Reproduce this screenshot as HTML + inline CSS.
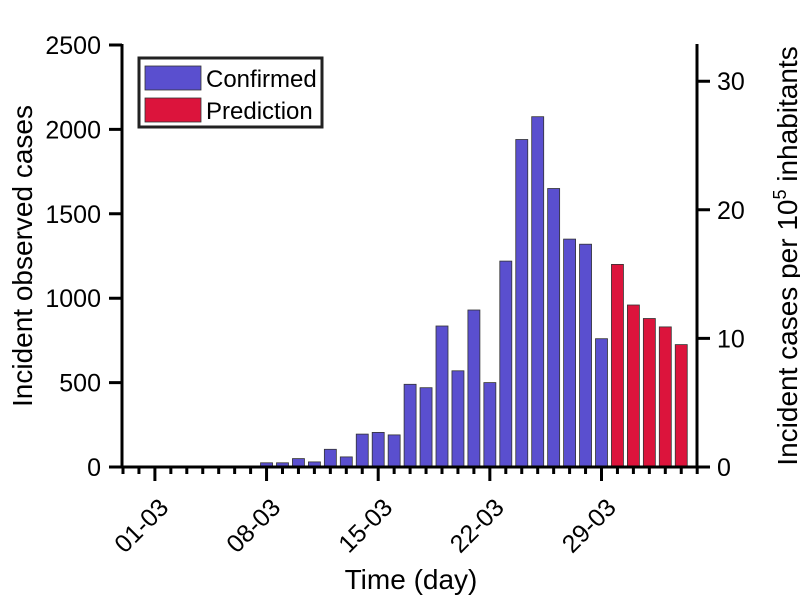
<!DOCTYPE html>
<html><head><meta charset="utf-8"><style>body{margin:0;background:#fff}svg{display:block}text{font-family:"Liberation Sans",sans-serif;fill:#000}</style></head><body>
<svg width="800" height="600" viewBox="0 0 800 600">
<g fill="#5a4fcf" stroke="#333" stroke-width="0.8">
<rect x="260.55" y="462.8" width="12" height="4.2"/>
<rect x="276.5" y="462.8" width="12" height="4.2"/>
<rect x="292.45" y="458.6" width="12" height="8.4"/>
<rect x="308.4" y="461.9" width="12" height="5.1"/>
<rect x="324.35" y="449.3" width="12" height="17.7"/>
<rect x="340.3" y="456.9" width="12" height="10.1"/>
<rect x="356.25" y="434.1" width="12" height="32.9"/>
<rect x="372.2" y="432.4" width="12" height="34.6"/>
<rect x="388.15" y="434.9" width="12" height="32.1"/>
<rect x="404.1" y="384.3" width="12" height="82.7"/>
<rect x="420.05" y="387.7" width="12" height="79.3"/>
<rect x="436" y="326" width="12" height="141"/>
<rect x="451.95" y="370.8" width="12" height="96.2"/>
<rect x="467.9" y="310" width="12" height="157"/>
<rect x="483.85" y="382.6" width="12" height="84.4"/>
<rect x="499.8" y="261.1" width="12" height="205.9"/>
<rect x="515.75" y="139.5" width="12" height="327.5"/>
<rect x="531.7" y="116.7" width="12" height="350.3"/>
<rect x="547.65" y="188.5" width="12" height="278.5"/>
<rect x="563.6" y="239.1" width="12" height="227.9"/>
<rect x="579.55" y="244.2" width="12" height="222.8"/>
<rect x="595.5" y="338.7" width="12" height="128.3"/>
</g>
<g fill="#dc143c" stroke="#333" stroke-width="0.8">
<rect x="611.45" y="264.4" width="12" height="202.6"/>
<rect x="627.4" y="305" width="12" height="162"/>
<rect x="643.35" y="318.5" width="12" height="148.5"/>
<rect x="659.3" y="326.9" width="12" height="140.1"/>
<rect x="675.25" y="344.6" width="12" height="122.4"/>
</g>
<path stroke="#000" stroke-width="3" fill="none" d="
M123 467v7M138.95 467v7M154.9 467v14M170.85 467v7M186.8 467v7M202.75 467v7M218.7 467v7M234.65 467v7M250.6 467v7M266.55 467v14
M282.5 467v7M298.45 467v7M314.4 467v7M330.35 467v7M346.3 467v7M362.25 467v7M378.2 467v14M394.15 467v7M410.1 467v7M426.05 467v7
M442 467v7M457.95 467v7M473.9 467v7M489.85 467v14M505.8 467v7M521.75 467v7M537.7 467v7M553.65 467v7M569.6 467v7M585.55 467v7
M601.5 467v14M617.45 467v7M633.4 467v7M649.35 467v7M665.3 467v7M681.25 467v7M697.2 467v7
M109 467h13M109 382.6h13M109 298.2h13M109 213.8h13M109 129.4h13M109 45h13
M697 467h13M697 338.4h13M697 209.8h13M697 81.2h13"/>
<line x1="122" y1="44" x2="122" y2="468.5" stroke="#000" stroke-width="3"/>
<line x1="697" y1="44" x2="697" y2="468.5" stroke="#000" stroke-width="3"/>
<line x1="120.5" y1="467" x2="698.5" y2="467" stroke="#000" stroke-width="3"/>
<g font-size="25" text-anchor="end">
<text x="101" y="476">0</text>
<text x="101" y="391.6">500</text>
<text x="101" y="307.2">1000</text>
<text x="101" y="222.8">1500</text>
<text x="101" y="138.4">2000</text>
<text x="101" y="54">2500</text>
<text transform="translate(170,509) rotate(-45)">01-03</text>
<text transform="translate(282,509) rotate(-45)">08-03</text>
<text transform="translate(394,509) rotate(-45)">15-03</text>
<text transform="translate(505.5,509) rotate(-45)">22-03</text>
<text transform="translate(617.5,509) rotate(-45)">29-03</text>
</g>
<g font-size="25">
<text x="717" y="476">0</text>
<text x="717" y="347.4">10</text>
<text x="717" y="218.8">20</text>
<text x="717" y="90.2">30</text>
</g>
<rect x="139" y="58" width="183" height="69" fill="#fff" stroke="#222" stroke-width="3"/>
<rect x="145" y="66" width="56" height="24" fill="#5a4fcf" stroke="#333" stroke-width="0.8"/>
<rect x="145" y="98" width="56" height="24" fill="#dc143c" stroke="#333" stroke-width="0.8"/>
<text x="206" y="87" font-size="24">Confirmed</text>
<text x="206" y="119" font-size="24">Prediction</text>
<text x="411" y="589" font-size="28" text-anchor="middle">Time (day)</text>
<text font-size="28" text-anchor="middle" transform="translate(32,256) rotate(-90)">Incident observed cases</text>
<text font-size="28" text-anchor="middle" transform="translate(797,256) rotate(-90)">Incident cases per 10<tspan font-size="18" dy="-11">5</tspan><tspan dy="11"> inhabitants</tspan></text>
</svg>
</body></html>
